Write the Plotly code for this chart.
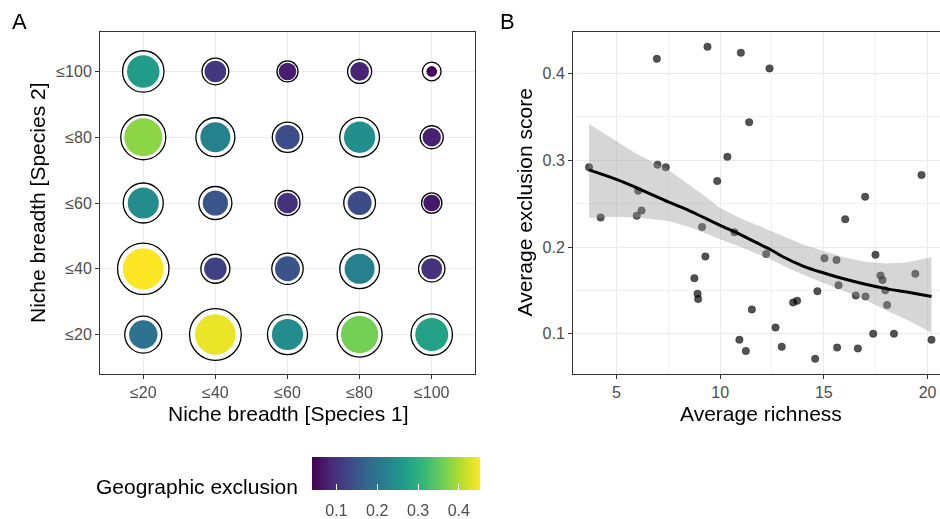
import numpy as np
import plotly.graph_objects as go

# ---------------- Panel A data ----------------
breadth_cats = ["≤20", "≤40", "≤60", "≤80", "≤100"]
# rows: Species 2 breadth (≤20 .. ≤100); columns: Species 1 breadth (≤20 .. ≤100)
excl_row_20 = [0.195, 0.440, 0.240, 0.364, 0.275]
excl_row_40 = [0.452, 0.118, 0.147, 0.222, 0.101]
excl_row_60 = [0.240, 0.150, 0.099, 0.134, 0.067]
excl_row_80 = [0.380, 0.222, 0.138, 0.245, 0.078]
excl_row_100 = [0.265, 0.108, 0.073, 0.081, 0.042]

upper_row_20 = [0.387, 0.811, 0.460, 0.597, 0.496]
upper_row_40 = [0.801, 0.226, 0.269, 0.452, 0.184]
upper_row_60 = [0.460, 0.300, 0.164, 0.275, 0.108]
upper_row_80 = [0.597, 0.434, 0.250, 0.452, 0.138]
upper_row_100 = [0.496, 0.189, 0.115, 0.151, 0.092]

# ---------------- Panel B data ----------------
richness = [3.68, 4.24, 6.05, 5.98, 6.21, 6.95, 6.98, 7.38, 9.39, 9.86, 9.13, 9.29,
            8.76, 8.91, 8.94, 10.35, 11.00, 11.40, 12.38, 10.69, 12.22, 11.53, 10.93,
            11.24, 12.67, 12.97, 13.52, 13.71, 14.58, 14.69, 15.03, 15.61, 15.71, 15.64,
            16.03, 16.54, 17.01, 16.99, 16.64, 17.49, 17.38, 17.73, 17.83, 17.96, 18.05,
            18.38, 19.41, 19.71, 20.19]
excl_score = [0.292, 0.234, 0.265, 0.236, 0.242, 0.417, 0.295, 0.292, 0.431, 0.276, 0.223, 0.189,
              0.164, 0.146, 0.140, 0.304, 0.424, 0.344, 0.406, 0.217, 0.192, 0.128, 0.093,
              0.080, 0.107, 0.085, 0.136, 0.138, 0.071, 0.149, 0.187, 0.185, 0.156, 0.084,
              0.232, 0.144, 0.143, 0.258, 0.083, 0.191, 0.100, 0.167, 0.162, 0.150, 0.133,
              0.100, 0.169, 0.283, 0.093]

smooth_x = [3.68, 5.0, 6.0, 7.5, 8.5, 9.3, 10.0, 11.0, 12.0, 12.5, 13.0, 14.0, 15.0, 16.0,
            17.0, 18.0, 19.0, 20.19]
smooth_fit = [0.289, 0.278, 0.268, 0.252, 0.242, 0.233, 0.225, 0.214, 0.202, 0.196, 0.189,
              0.178, 0.170, 0.163, 0.157, 0.152, 0.148, 0.143]
smooth_upper = [0.342, 0.322, 0.307, 0.289, 0.272, 0.258, 0.245, 0.233, 0.223, 0.218, 0.213,
                0.203, 0.195, 0.188, 0.183, 0.181, 0.182, 0.1885]
smooth_lower = [0.2335, 0.235, 0.234, 0.230, 0.223, 0.216, 0.209, 0.200, 0.190, 0.185, 0.179,
                0.168, 0.1585, 0.149, 0.139, 0.127, 0.116, 0.101]

colorbar_ticks = [0.1, 0.2, 0.3, 0.4]

# ---------------- helpers ----------------
CMIN, CMAX = 0.04, 0.452


def size_scale(v):
    t = np.clip((np.asarray(v, dtype=float) - CMIN) / (CMAX - CMIN), 0, None)
    return 8.4 + 32.6 * np.sqrt(t)


excl_rows = [excl_row_20, excl_row_40, excl_row_60, excl_row_80, excl_row_100]
upper_rows = [upper_row_20, upper_row_40, upper_row_60, upper_row_80, upper_row_100]

xs, ys, ex, up = [], [], [], []
for r, cat_y in enumerate(breadth_cats):
    for c, cat_x in enumerate(breadth_cats):
        xs.append(cat_x)
        ys.append(cat_y)
        ex.append(excl_rows[r][c])
        up.append(upper_rows[r][c])

RING_W = 1.3
FONT = "Liberation Sans, Arial, sans-serif"
GRID = "#ebebeb"
AXCOL = "#333333"
TICKCOL = "#4d4d4d"
TICK_SIZE = 16
TITLE_SIZE = 21

cb_common = dict(orientation="h", x=396 / 940, xanchor="center",
                 y=(519 - 457) / 519, yanchor="top",
                 len=168, lenmode="pixels", thickness=33, thicknessmode="pixels",
                 xpad=0, ypad=0, outlinewidth=0, tickvals=colorbar_ticks)

fig = go.Figure()

# outer rings
fig.add_trace(go.Scatter(
    x=xs, y=ys, mode="markers", xaxis="x", yaxis="y", showlegend=False, hoverinfo="skip",
    marker=dict(size=size_scale(up) - RING_W, color="white", opacity=1,
                line=dict(color="black", width=RING_W)),
))
# inner coloured circles (+ colour bar with labels)
fig.add_trace(go.Scatter(
    x=xs, y=ys, mode="markers", xaxis="x", yaxis="y", showlegend=False,
    marker=dict(size=size_scale(ex), color=ex, colorscale="Viridis", cmin=CMIN, cmax=CMAX,
                opacity=1, line=dict(width=0), showscale=True,
                colorbar=dict(**cb_common, ticks="outside", ticklen=7,
                              tickcolor="rgba(0,0,0,0)",
                              tickfont=dict(family=FONT, size=TICK_SIZE, color=TICKCOL))),
))
# invisible duplicates that draw the white tick marks at the top and bottom of the bar
for pos in ["outside top", "outside"]:
    fig.add_trace(go.Scatter(
        x=xs, y=ys, mode="markers", xaxis="x", yaxis="y", showlegend=False, hoverinfo="skip",
        opacity=0,
        marker=dict(size=1, color=ex, colorscale="Viridis", cmin=CMIN, cmax=CMAX,
                    showscale=True,
                    colorbar=dict(**cb_common, ticks="inside", ticklen=6, tickcolor="white",
                                  tickwidth=1, ticklabelposition=pos,
                                  tickfont=dict(family=FONT, size=1,
                                                color="rgba(0,0,0,0)"))),
    ))

# Panel B: points, band, line
fig.add_trace(go.Scatter(
    x=richness, y=excl_score, mode="markers", xaxis="x2", yaxis="y2", showlegend=False,
    marker=dict(size=7.5, color="rgba(0,0,0,0.68)", opacity=1,
                line=dict(width=0.6, color="rgba(0,0,0,0.5)")),
))
fig.add_trace(go.Scatter(
    x=smooth_x + smooth_x[::-1], y=smooth_upper + smooth_lower[::-1],
    mode="lines", fill="toself", fillcolor="rgba(153,153,153,0.4)", line=dict(width=0),
    xaxis="x2", yaxis="y2", showlegend=False, hoverinfo="skip",
))
fig.add_trace(go.Scatter(
    x=smooth_x, y=smooth_fit, mode="lines", line=dict(color="black", width=3, shape="spline"),
    xaxis="x2", yaxis="y2", showlegend=False,
))

ydom = [145 / 519, 487 / 519]
common = dict(showline=True, linecolor=AXCOL, linewidth=1, ticks="outside", ticklen=4,
              tickcolor=AXCOL, tickwidth=1, showgrid=True, gridcolor=GRID, gridwidth=1.1,
              zeroline=False, tickfont=dict(family=FONT, size=TICK_SIZE, color=TICKCOL))


def title_ann(text, x, y, angle=0, anchor="center"):
    return dict(text=text, x=x / 940, y=1 - y / 519, xref="paper", yref="paper",
                xanchor=anchor, yanchor="middle", textangle=angle, showarrow=False,
                font=dict(family=FONT, size=TITLE_SIZE, color="black"))


fig.update_layout(
    width=940, height=519, margin=dict(l=0, r=0, t=0, b=0),
    paper_bgcolor="white", plot_bgcolor="white",
    font=dict(family=FONT, color="black"),
    xaxis=dict(domain=[100 / 940, 475 / 940], anchor="y", type="category",
               categoryorder="array", categoryarray=breadth_cats, range=[-0.6, 4.6],
               mirror=True, **common),
    yaxis=dict(domain=ydom, anchor="x", type="category",
               categoryorder="array", categoryarray=breadth_cats, range=[-0.6, 4.6],
               mirror=True, **common),
    xaxis2=dict(domain=[573 / 940, 1.0], anchor="y2", range=[2.907, 20.60],
                tickvals=[5, 10, 15, 20], mirror=True,
                minor=dict(tickvals=[2.5, 7.5, 12.5, 17.5], showgrid=True,
                           gridcolor="#f2f2f2", gridwidth=0.7, ticks=""),
                **common),
    yaxis2=dict(domain=ydom, anchor="x2", range=[0.0535, 0.448],
                tickvals=[0.1, 0.2, 0.3, 0.4], mirror=False,
                minor=dict(tickvals=[0.05, 0.15, 0.25, 0.35, 0.45], showgrid=True,
                           gridcolor="#f2f2f2", gridwidth=0.7, ticks=""),
                **common),
    annotations=[
        dict(text="A", x=10 / 940, y=1 - 22 / 519, xref="paper", yref="paper",
             xanchor="left", yanchor="middle", showarrow=False,
             font=dict(family=FONT, size=22, color="black")),
        dict(text="B", x=498 / 940, y=1 - 22 / 519, xref="paper", yref="paper",
             xanchor="left", yanchor="middle", showarrow=False,
             font=dict(family=FONT, size=22, color="black")),
        title_ann("Niche breadth [Species 1]", 287.5, 413),
        title_ann("Niche breadth [Species 2]", 37, 203, angle=-90),
        title_ann("Average richness", 761, 413),
        title_ann("Average exclusion score", 523.5, 203, angle=-90),
        title_ann("Geographic exclusion", 300, 486, anchor="right"),
    ],
)

fig.write_html("out.html", config={"displayModeBar": False},
               post_script="document.body.style.margin='0';document.body.style.padding='0';")
